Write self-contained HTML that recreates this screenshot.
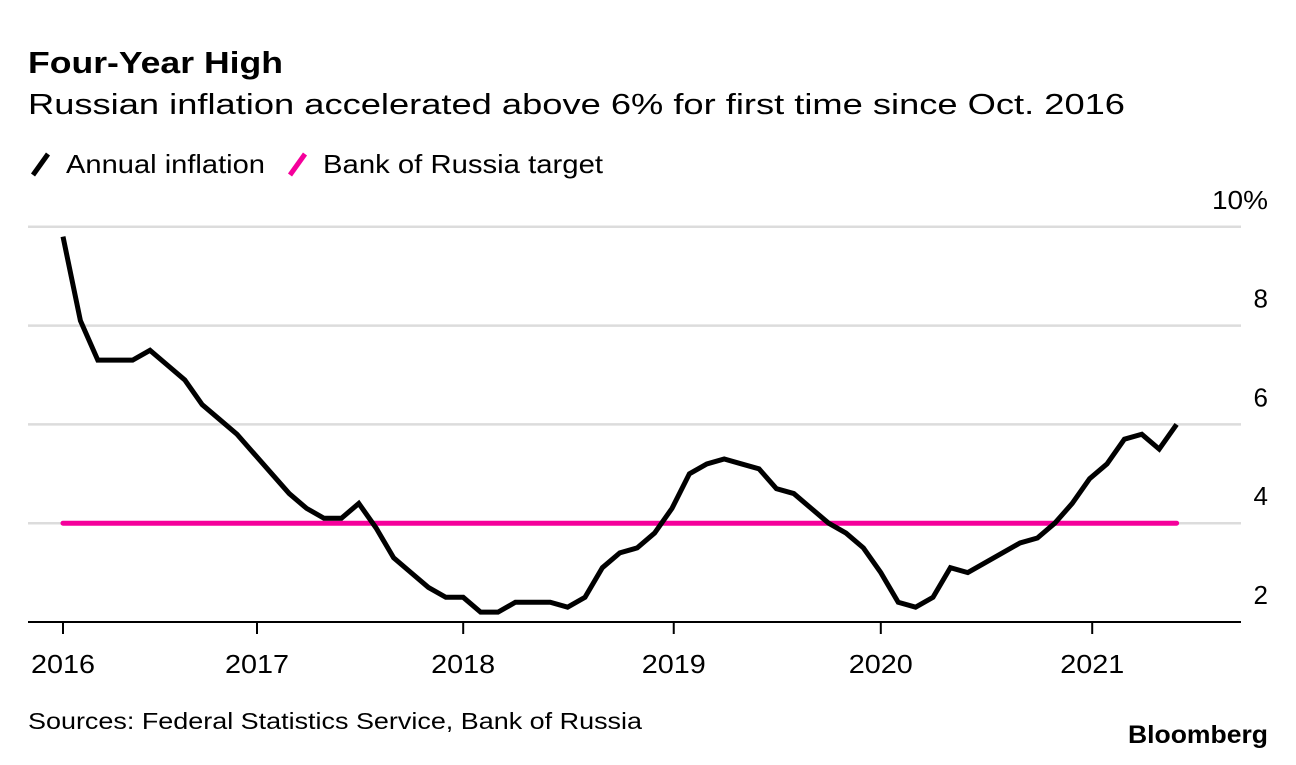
<!DOCTYPE html>
<html><head><meta charset="utf-8"><style>
body{margin:0;background:#fff;font-family:"Liberation Sans",Arial,sans-serif;}
svg text{font-family:"Liberation Sans",Arial,sans-serif;}
</style></head><body>
<svg id="chart" width="1296" height="760">
<text x="28" y="73" font-size="31" font-weight="bold" fill="#000" textLength="255" lengthAdjust="spacingAndGlyphs">Four-Year High</text>
<text x="28" y="114" font-size="29" fill="#000" textLength="1097" lengthAdjust="spacingAndGlyphs">Russian inflation accelerated above 6% for first time since Oct. 2016</text>
<g>
<line x1="33" y1="175" x2="48" y2="154" stroke="#000" stroke-width="5"/>
<text x="66" y="173" font-size="26" textLength="199" lengthAdjust="spacingAndGlyphs">Annual inflation</text>
<line x1="290" y1="175" x2="305" y2="154" stroke="#f5009b" stroke-width="5"/>
<text x="323" y="173" font-size="26" textLength="280" lengthAdjust="spacingAndGlyphs">Bank of Russia target</text>
</g>
<g id="grid"></g><g id="marks"></g>
<text x="28" y="729" font-size="23" textLength="614" lengthAdjust="spacingAndGlyphs">Sources: Federal Statistics Service, Bank of Russia</text>
<text x="1128" y="743" font-size="25" font-weight="bold" textLength="140" lengthAdjust="spacingAndGlyphs">Bloomberg</text>
</svg>
<script>
const yTicks=[2,4,6,8,10];
const yTickLabels=["2","4","6","8","10%"];
const xTickLabels=["2016","2017","2018","2019","2020","2021"];
const xTickMonthIndex=[0,11.15,23,35.1,47,59.15];
const inflation=[9.8,8.1,7.3,7.3,7.3,7.5,7.2,6.9,6.4,6.1,5.8,5.4,
5.0,4.6,4.3,4.1,4.1,4.4,3.9,3.3,3.0,2.7,2.5,2.5,
2.2,2.2,2.4,2.4,2.4,2.3,2.5,3.1,3.4,3.5,3.8,4.3,
5.0,5.2,5.3,5.2,5.1,4.7,4.6,4.3,4.0,3.8,3.5,3.0,
2.4,2.3,2.5,3.1,3.0,3.2,3.4,3.6,3.7,4.0,4.4,4.9,
5.2,5.7,5.8,5.5,6.0];
const targetValue=[4];
const NS="http://www.w3.org/2000/svg";
const x=i=>63+i*17.4;
const y=v=>622-(v-2)*49.4;
const grid=document.getElementById('grid'),marks=document.getElementById('marks');
function mk(tag,attrs,parent){const e=document.createElementNS(NS,tag);for(const k in attrs)e.setAttribute(k,attrs[k]);parent.appendChild(e);return e;}
yTicks.forEach((v,i)=>{
 if(v>2){const l=mk('line',{x1:28,x2:1241,y1:y(v),y2:y(v),stroke:'#dcdcdc','stroke-width':2.5},grid);
 
 }
 const t=mk('text',{x:1268,y:y(v)-18,'font-size':26,'text-anchor':'end'},grid);t.textContent=yTickLabels[i];
 if(v===10){t.setAttribute('textLength',56);t.setAttribute('lengthAdjust','spacingAndGlyphs');}
 
 
});
const ax=mk('line',{x1:28,x2:1241,y1:622,y2:622,stroke:'#000','stroke-width':2},grid);


xTickLabels.forEach((lab,i)=>{
 const xx=x(xTickMonthIndex[i]);
 const tk=mk('line',{x1:xx,x2:xx,y1:622,y2:634,stroke:'#000','stroke-width':2},grid);
 
 
 const t=mk('text',{x:xx-32,y:673,'font-size':26,textLength:64,lengthAdjust:'spacingAndGlyphs'},grid);t.textContent=lab;
 
 
});
const tl=mk('line',{x1:x(0),x2:x(inflation.length-1),y1:y(targetValue[0]),y2:y(targetValue[0]),stroke:'#f5009b','stroke-width':5,'stroke-linecap':'round'},marks);


const p=mk('polyline',{points:inflation.map((v,i)=>x(i)+','+y(v)).join(' '),fill:'none',stroke:'#000','stroke-width':5,'stroke-linejoin':'miter'},marks);


</script>
</body></html>
